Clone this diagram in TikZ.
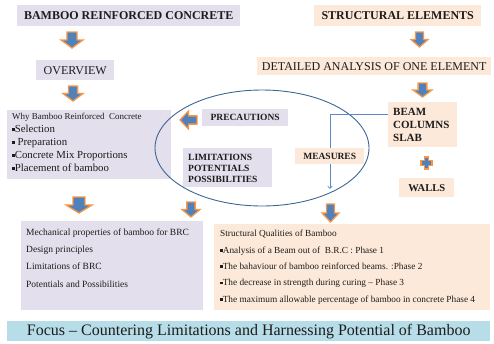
\documentclass[tikz,border=0pt]{standalone}
\usepackage{fontspec}
\setmainfont{Liberation Serif}
\usetikzlibrary{arrows.meta,calc}
\definecolor{lav}{HTML}{E4DFEC}
\definecolor{peach}{HTML}{FDE9D9}
\definecolor{barblue}{HTML}{B7DDE8}
\definecolor{arrblue}{HTML}{4F81BD}
\definecolor{arrorange}{HTML}{F79646}
\definecolor{ellblue}{HTML}{3F6593}
\definecolor{connblue}{HTML}{5B8AC6}
\definecolor{txt}{HTML}{1C1C1C}
\newcommand{\bsq}{\rule[1.6pt]{2.6pt}{2.6pt}}
\begin{document}
\begin{tikzpicture}[x=1pt,y=-1pt,
  box/.style={inner sep=0pt, anchor=north west, text=txt, align=center},
  lbox/.style={box, fill=lav},
  pbox/.style={box, fill=peach},
  arrsty/.style={fill=arrblue, draw=arrorange, line width=1.3pt, line join=miter},
  darrow/.pic={\path[arrsty] (-0.23,0) -- (0.23,0) -- (0.23,0.5) -- (0.5,0.5) -- (0,1) -- (-0.5,0.5) -- (-0.23,0.5) -- cycle;},
  larrow/.pic={\path[arrsty] (1,-0.23) -- (1,0.23) -- (0.5,0.23) -- (0.5,0.5) -- (0,0) -- (0.5,-0.5) -- (0.5,-0.23) -- cycle;},
  plussign/.pic={\path[arrsty] (-0.18,-0.5) -- (0.18,-0.5) -- (0.18,-0.18) -- (0.5,-0.18) -- (0.5,0.18) -- (0.18,0.18) -- (0.18,0.5) -- (-0.18,0.5) -- (-0.18,0.18) -- (-0.5,0.18) -- (-0.5,-0.18) -- (-0.18,-0.18) -- cycle;},
  conn/.style={draw=connblue, line width=0.7pt, -{Straight Barb[length=2.5pt,width=4.5pt]}}
]
\useasboundingbox (0,0) rectangle (494,343);

% left column
\node[lbox, minimum width=223, minimum height=21] (brc) at (17,5) {\fontsize{12}{14}\selectfont\bfseries BAMBOO REINFORCED CONCRETE};
\node[lbox, minimum width=78, minimum height=20] (ov) at (36,60) {\fontsize{12}{14}\selectfont OVERVIEW};
\node[lbox, inner xsep=5pt, align=left] (why) at (7,110) {\parbox[c][69pt][t]{154pt}{\fontsize{9}{13}\selectfont\rule{0pt}{9pt}Why Bamboo Reinforced\ \ Concrete\\
\fontsize{10.8}{13}\selectfont\bsq Selection\\
\bsq\ Preparation\\
\bsq Concrete Mix Proportions\\
\bsq Placement of bamboo}};

\node[lbox, minimum width=86, minimum height=17] (prec) at (202,109) {\fontsize{9.5}{11}\selectfont\bfseries PRECAUTIONS};
\node[lbox, inner xsep=5pt, align=left] (lim) at (183,148) {\parbox[c][39pt][t]{79pt}{\fontsize{9.5}{11}\selectfont\bfseries\rule{0pt}{12pt}LIMITATIONS\\POTENTIALS\\POSSIBILITIES}};

% right column
\node[pbox, minimum width=167, minimum height=21] (se) at (314,5) {\fontsize{12}{14}\selectfont\bfseries STRUCTURAL ELEMENTS};
\node[pbox, minimum width=234, minimum height=18] (da) at (257,57) {\fontsize{12}{14}\selectfont DETAILED ANALYSIS OF ONE ELEMENT};
\node[pbox, inner xsep=5pt, align=left] (beam) at (388,102) {\parbox[c][45pt][t]{59pt}{\fontsize{11}{13}\selectfont\bfseries\rule{0pt}{13pt}BEAM\\COLUMNS\\SLAB}};
\node[pbox, minimum width=55, minimum height=19] (walls) at (399,178) {\fontsize{10.5}{12}\selectfont\bfseries WALLS};

% bottom boxes
\node[lbox, inner xsep=5pt, align=left] (mech) at (21,221) {\parbox[c][89pt][t]{172pt}{\fontsize{9.5}{17.3}\selectfont\rule{0pt}{14pt}Mechanical properties of bamboo for BRC\\
Design principles\\
Limitations of BRC\\
Potentials and Possibilities}};
\node[pbox, inner xsep=6pt, align=left] (sq) at (214,224) {\parbox[c][86pt][t]{264pt}{\fontsize{9.3}{16.4}\selectfont\rule{0pt}{12.5pt}Structural Qualities of Bamboo\\
\bsq Analysis of a Beam out of\ \ B.R.C : Phase 1\\
\bsq The bahaviour of bamboo reinforced beams. :Phase 2\\
\bsq The decrease in strength during curing -- Phase 3\\
\bsq The maximum allowable percentage of bamboo in concrete Phase 4}};

\node[box, fill=barblue, minimum width=483, minimum height=20] (focus) at (7,321) {\fontsize{16}{18}\selectfont Focus -- Countering Limitations and Harnessing Potential of Bamboo};

% block arrows
\pic[xscale=22,yscale=16] at (72,32) {darrow};
\pic[xscale=20,yscale=15] at (73,86) {darrow};
\pic[xscale=17,yscale=15] at (419.5,32) {darrow};
\pic[xscale=19,yscale=14] at (422.5,83) {darrow};
\pic[xscale=26,yscale=16] at (79,197) {darrow};
\pic[xscale=18,yscale=15] at (191,202) {darrow};
\pic[xscale=17,yscale=18] at (330.5,204) {darrow};
\pic[xscale=17,yscale=18] at (180,120) {larrow};
\pic[xscale=11,yscale=12] at (426.5,163) {plussign};

% ellipse
\draw[ellblue, line width=0.9pt] (262,148) ellipse [x radius=107, y radius=58];

% connector
\coordinate (mend) at (330,189);
\draw[conn] ([yshift=10.5pt]beam.west) -| (mend);

\node[pbox, minimum width=69, minimum height=16] (meas) at (295,148) {\fontsize{9.5}{11}\selectfont\bfseries MEASURES};
\end{tikzpicture}
\end{document}
